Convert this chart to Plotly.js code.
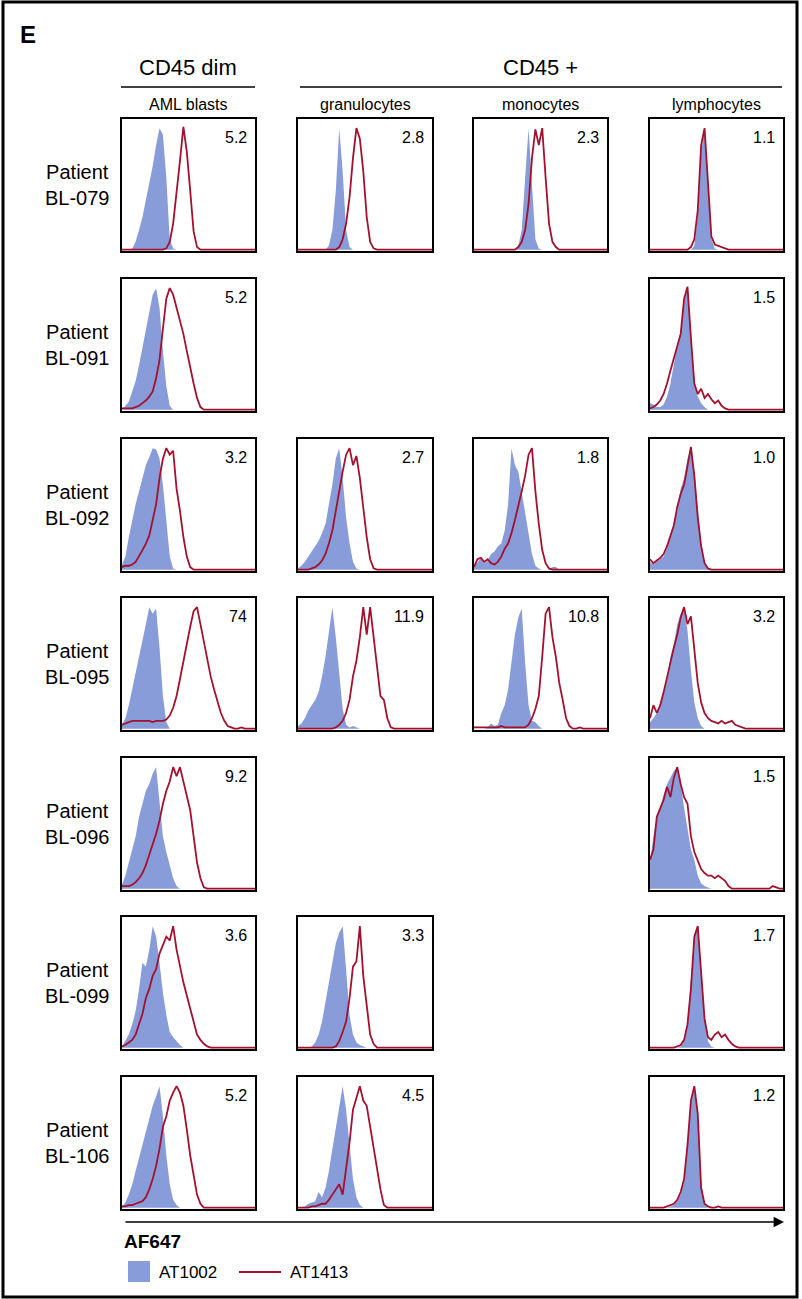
<!DOCTYPE html>
<html>
<head>
<meta charset="utf-8">
<script src="https://cdn.plot.ly/plotly-3.0.1.min.js"></script>
<style>html,body{margin:0;padding:0;background:#fff;}#chart{width:802px;height:1299px;}</style>
</head>
<body>
<div id="chart"></div>
<script>
// ---------------- DATA ----------------
const bins = [0,1,2,3,4,5,6,7,8,9,10,11,12,13,14,15,16,17,18,19,20,21,22,23,24,25,26,27,28,29,30,31,32,33,34,35,36,37,38,39];
const patients = ['BL-079','BL-091','BL-092','BL-095','BL-096','BL-099','BL-106'];
const populations = ['AML blasts','granulocytes','monocytes','lymphocytes'];
const groupLabels = ['CD45 dim','CD45 +'];
const seriesNames = ['AT1002','AT1413'];
const axisLabel = 'AF647';

// MFI ratio labels, per patient row, per population column ('' = no panel)
const ratiosBL079 = ['5.2','2.8','2.3','1.1'];
const ratiosBL091 = ['5.2','','','1.5'];
const ratiosBL092 = ['3.2','2.7','1.8','1.0'];
const ratiosBL095 = ['74','11.9','10.8','3.2'];
const ratiosBL096 = ['9.2','','','1.5'];
const ratiosBL099 = ['3.6','3.3','','1.7'];
const ratiosBL106 = ['5.2','4.5','','1.2'];

// histograms (% of mode), AT1002 (filled) and AT1413 (line)
const BL079_blasts_AT1002 = [0,0,0,1,6,15,25,38,50,64, 80,93,88,55,8,1,0,0,0,0, 0,0,0,0,0,0,0,0,0,0, 0,0,0,0,0,0,0,0,0,0];
const BL079_blasts_AT1413 = [0,0,0,0,0,0,0,0,0,0, 0,0,0,1,6,20,42,68,94,75, 45,14,2,0,0,0,0,0,0,0, 0,0,0,0,0,0,0,0,0,0];
const BL079_gran_AT1002 = [0,0,0,0,0,0,0,0,0,3, 15,45,93,60,15,2,0,0,0,0, 0,0,0,0,0,0,0,0,0,0, 0,0,0,0,0,0,0,0,0,0];
const BL079_gran_AT1413 = [0,0,0,0,0,0,0,0,0,0, 0,0,2,8,20,40,70,93,85,60, 25,6,1,0,0,0,0,0,0,0, 0,0,0,0,0,0,0,0,0,0];
const BL079_mono_AT1002 = [0,0,0,0,0,0,0,0,0,0, 0,0,0,3,15,55,93,50,8,1, 0,0,0,0,0,0,0,0,0,0, 0,0,0,0,0,0,0,0,0,0];
const BL079_mono_AT1413 = [0,0,0,0,0,0,0,0,0,0, 0,0,0,2,6,15,35,70,92,80, 93,55,20,6,2,0,0,0,0,0, 0,0,0,0,0,0,0,0,0,0];
const BL079_lymph_AT1002 = [0,0,0,0,0,0,0,0,0,0, 0,0,0,3,25,75,93,55,8,1, 0,0,0,0,0,0,0,0,0,0, 0,0,0,0,0,0,0,0,0,0];
const BL079_lymph_AT1413 = [0,0,0,0,0,0,0,0,0,0, 0,0,2,8,30,80,93,50,10,4, 3,2,1,0,0,0,0,0,0,0, 0,0,0,0,0,0,0,0,0,0];

const BL091_blasts_AT1002 = [0,3,6,14,22,34,48,62,76,88, 93,78,45,18,3,0,0,0,0,0, 0,0,0,0,0,0,0,0,0,0, 0,0,0,0,0,0,0,0,0,0];
const BL091_blasts_AT1413 = [1,1,1,1,2,3,5,7,10,14, 24,38,62,85,93,88,78,68,58,45, 32,20,9,2,0,0,0,0,0,0, 0,0,0,0,0,0,0,0,0,0];
const BL091_lymph_AT1002 = [5,4,2,2,4,10,20,35,50,60, 85,93,60,20,10,5,2,0,0,0, 0,0,0,0,0,0,0,0,0,0, 0,0,0,0,0,0,0,0,0,0];
const BL091_lymph_AT1413 = [1,2,4,7,12,20,30,40,50,58, 85,94,55,20,12,16,9,12,8,5, 7,3,1,0,0,0,0,0,0,0, 0,0,0,0,0,0,0,0,0,0];

const BL092_blasts_AT1002 = [4,10,25,38,50,60,70,80,86,93, 92,85,65,38,10,1,0,0,0,0, 0,0,0,0,0,0,0,0,0,0, 0,0,0,0,0,0,0,0,0,0];
const BL092_blasts_AT1413 = [2,3,3,4,6,10,15,20,26,38, 50,70,85,93,88,91,62,45,25,10, 2,0,0,0,0,0,0,0,0,0, 0,0,0,0,0,0,0,0,0,0];
const BL092_gran_AT1002 = [1,3,6,10,13,17,22,28,35,50, 65,85,93,70,40,20,6,1,0,0, 0,0,0,0,0,0,0,0,0,0, 0,0,0,0,0,0,0,0,0,0];
const BL092_gran_AT1413 = [0,0,0,0,1,2,4,7,12,20, 30,45,62,75,88,93,80,87,70,48, 25,8,1,0,0,0,0,0,0,0, 0,0,0,0,0,0,0,0,0,0];
const BL092_mono_AT1002 = [2,6,9,5,7,12,14,18,20,30, 50,93,80,75,60,45,30,12,3,1, 0,0,0,2,2,0,0,0,0,0, 0,0,0,0,0,0,0,0,0,0];
const BL092_mono_AT1413 = [2,8,9,6,8,5,4,6,10,16, 20,28,38,48,60,72,88,93,60,35, 15,5,1,0,0,0,0,0,0,0, 0,0,0,0,0,0,0,0,0,0];
const BL092_lymph_AT1002 = [6,4,6,8,10,16,25,35,45,62, 70,85,93,75,45,20,6,1,0,0, 0,0,0,0,0,0,0,0,0,0, 0,0,0,0,0,0,0,0,0,0];
const BL092_lymph_AT1413 = [8,5,7,9,12,18,26,34,48,58, 65,80,94,72,40,18,5,1,0,0, 0,0,0,0,0,0,0,0,0,0, 0,0,0,0,0,0,0,0,0,0];

const BL095_blasts_AT1002 = [3,8,18,30,42,55,68,80,93,88, 92,62,25,5,0,0,0,0,0,0, 0,0,0,0,0,0,0,0,0,0, 0,0,0,0,0,0,0,0,0,0];
const BL095_blasts_AT1413 = [3,4,5,6,6,6,6,6,6,5, 6,6,6,7,10,16,25,38,52,65, 78,90,93,80,66,52,40,30,20,12, 6,2,1,0,0,1,0,0,0,0];
const BL095_gran_AT1002 = [2,4,8,14,18,22,28,40,55,75, 93,70,40,15,3,1,2,1,0,0, 0,0,0,0,0,0,0,0,0,0, 0,0,0,0,0,0,0,0,0,0];
const BL095_gran_AT1413 = [0,0,0,0,0,0,0,0,0,0, 0,1,3,6,12,22,40,52,70,93, 72,93,70,48,25,22,8,1,0,0, 0,0,0,0,0,0,0,0,0,0];
const BL095_mono_AT1002 = [0,0,0,0,1,4,2,3,12,18, 30,50,72,85,92,50,18,6,5,2, 0,0,0,0,0,0,0,0,0,0, 0,0,0,0,0,0,0,0,0,0];
const BL095_mono_AT1413 = [1,1,1,1,1,1,1,1,2,1, 1,1,1,1,1,1,3,8,15,25, 55,88,93,70,55,35,22,8,2,0, 0,1,0,0,0,0,0,0,0,0];
const BL095_lymph_AT1002 = [5,8,12,18,28,38,55,65,80,88, 93,75,45,20,8,2,0,0,0,0, 0,0,0,0,0,0,0,0,0,0, 0,0,0,0,0,0,0,0,0,0];
const BL095_lymph_AT1413 = [8,18,12,18,28,40,52,62,72,85, 93,80,86,60,35,20,12,8,6,5, 4,6,4,5,6,3,2,1,0,0, 0,0,0,0,0,0,0,0,0,0];

const BL096_blasts_AT1002 = [3,10,20,30,40,55,64,75,80,88, 93,65,40,28,18,8,2,0,0,0, 0,0,0,0,0,0,0,0,0,0, 0,0,0,0,0,0,0,0,0,0];
const BL096_blasts_AT1413 = [2,2,2,3,5,8,12,18,26,33, 42,52,65,75,82,93,86,93,82,72, 60,40,20,8,1,0,0,0,0,0, 0,0,0,0,0,0,0,0,0,0];
const BL096_lymph_AT1002 = [20,40,55,62,72,80,85,90,93,80, 62,45,30,22,10,4,2,1,0,0, 0,0,0,0,0,0,0,0,0,0, 0,0,0,0,0,0,0,0,0,0];
const BL096_lymph_AT1413 = [22,30,55,62,68,78,70,85,93,80, 70,65,40,28,22,15,12,10,10,8, 10,8,6,2,0,0,0,0,0,0, 0,0,0,0,0,0,2,1,0,0];

const BL099_blasts_AT1002 = [1,5,10,18,28,45,65,62,75,93, 85,65,42,25,12,8,5,2,0,0, 0,0,0,0,0,0,0,0,0,0, 0,0,0,0,0,0,0,0,0,0];
const BL099_blasts_AT1413 = [1,2,4,6,10,18,26,38,45,55, 60,72,78,85,82,93,75,62,50,40, 30,20,10,6,3,1,0,0,0,0, 0,0,0,0,0,0,0,0,0,0];
const BL099_gran_AT1002 = [0,0,0,0,1,4,10,20,35,50, 65,80,88,93,60,25,10,4,2,1, 0,0,0,0,0,0,0,0,0,0, 0,0,0,0,0,0,0,0,0,0];
const BL099_gran_AT1413 = [0,0,0,0,0,0,0,0,0,0, 0,1,5,12,20,38,62,66,93,55, 30,10,3,0,0,0,0,0,0,0, 0,0,0,0,0,0,0,0,0,0];
const BL099_lymph_AT1002 = [0,0,0,0,0,0,0,0,0,1, 5,20,50,85,93,60,25,5,1,0, 0,0,0,0,0,0,0,0,0,0, 0,0,0,0,0,0,0,0,0,0];
const BL099_lymph_AT1413 = [0,0,0,0,0,0,0,0,1,2, 6,18,45,85,93,55,22,8,6,10, 12,8,10,6,3,1,0,0,0,0, 0,0,0,0,0,0,0,0,0,0];

const BL106_blasts_AT1002 = [1,4,10,18,28,38,48,60,70,78, 85,93,70,40,18,6,2,0,0,0, 0,0,0,0,0,0,0,0,0,0, 0,0,0,0,0,0,0,0,0,0];
const BL106_blasts_AT1413 = [1,1,2,2,3,4,5,8,14,22, 32,45,62,70,82,88,93,88,78,60, 40,25,10,3,0,0,0,0,0,0, 0,0,0,0,0,0,0,0,0,0];
const BL106_gran_AT1002 = [0,0,1,3,4,5,12,8,15,28, 45,60,78,93,75,50,22,8,2,0, 0,0,0,0,0,0,0,0,0,0, 0,0,0,0,0,0,0,0,0,0];
const BL106_gran_AT1413 = [0,0,0,0,1,1,2,3,3,6, 10,14,18,10,30,50,75,85,93,82, 78,62,45,28,14,2,0,0,0,0, 0,0,0,0,0,0,0,0,0,0];
const BL106_lymph_AT1002 = [0,0,0,0,0,0,1,2,5,10, 20,45,80,93,70,20,3,0,0,0, 0,0,0,0,0,0,0,0,0,0, 0,0,0,0,0,0,0,0,0,0];
const BL106_lymph_AT1413 = [0,0,0,0,0,1,2,3,6,12, 22,48,82,93,72,15,3,1,0,0, 1,0,0,0,0,0,0,0,0,0, 0,0,0,0,0,0,0,0,0,0];

// ---------------- BUILD ----------------
const ratioRows = [ratiosBL079, ratiosBL091, ratiosBL092, ratiosBL095, ratiosBL096, ratiosBL099, ratiosBL106];
const panels = [
  [0,0,BL079_blasts_AT1002,BL079_blasts_AT1413],[0,1,BL079_gran_AT1002,BL079_gran_AT1413],
  [0,2,BL079_mono_AT1002,BL079_mono_AT1413],[0,3,BL079_lymph_AT1002,BL079_lymph_AT1413],
  [1,0,BL091_blasts_AT1002,BL091_blasts_AT1413],[1,3,BL091_lymph_AT1002,BL091_lymph_AT1413],
  [2,0,BL092_blasts_AT1002,BL092_blasts_AT1413],[2,1,BL092_gran_AT1002,BL092_gran_AT1413],
  [2,2,BL092_mono_AT1002,BL092_mono_AT1413],[2,3,BL092_lymph_AT1002,BL092_lymph_AT1413],
  [3,0,BL095_blasts_AT1002,BL095_blasts_AT1413],[3,1,BL095_gran_AT1002,BL095_gran_AT1413],
  [3,2,BL095_mono_AT1002,BL095_mono_AT1413],[3,3,BL095_lymph_AT1002,BL095_lymph_AT1413],
  [4,0,BL096_blasts_AT1002,BL096_blasts_AT1413],[4,3,BL096_lymph_AT1002,BL096_lymph_AT1413],
  [5,0,BL099_blasts_AT1002,BL099_blasts_AT1413],[5,1,BL099_gran_AT1002,BL099_gran_AT1413],
  [5,3,BL099_lymph_AT1002,BL099_lymph_AT1413],
  [6,0,BL106_blasts_AT1002,BL106_blasts_AT1413],[6,1,BL106_gran_AT1002,BL106_gran_AT1413],
  [6,3,BL106_lymph_AT1002,BL106_lymph_AT1413]
];

const W = 802, H = 1299;
const px = x => x / W;
const py = y => 1 - y / H;
const colL = [122, 298, 474, 650];
const colR = [255, 432, 607, 783];
const rowT = [119, 279, 439, 598, 758, 917, 1077];
const boxH = 132;

const BLUE = 'rgb(137,156,218)';
const RED = '#A3112E';
const FONT = 'Liberation Sans, Arial, Helvetica, sans-serif';

const traces = [];
const layout = {
  width: W, height: H,
  margin: {l:0, r:0, t:0, b:0},
  paper_bgcolor: '#ffffff', plot_bgcolor: '#ffffff',
  showlegend: false,
  font: {family: FONT, color: '#000'},
  shapes: [], annotations: []
};

panels.forEach((p, i) => {
  const [r, c, blue, red] = p;
  const k = i + 1;
  const xa = k === 1 ? 'xaxis' : 'xaxis' + k;
  const ya = k === 1 ? 'yaxis' : 'yaxis' + k;
  const xr = k === 1 ? 'x' : 'x' + k;
  const yr = k === 1 ? 'y' : 'y' + k;
  const axCommon = {showline:true, mirror:true, linecolor:'#000', linewidth:2,
    showgrid:false, zeroline:false, showticklabels:false, ticks:'', fixedrange:true};
  layout[xa] = Object.assign({}, axCommon, {domain:[px(colL[c]), px(colR[c])], range:[0, 39], anchor: yr});
  layout[ya] = Object.assign({}, axCommon, {domain:[py(rowT[r] + boxH), py(rowT[r])], range:[-1, 100], anchor: xr});
  traces.push({x: bins, y: blue, xaxis: xr, yaxis: yr, type:'scatter', mode:'lines',
    fill:'tozeroy', fillcolor: BLUE, line:{width:0, color: BLUE}, hoverinfo:'skip', name: seriesNames[0]});
  traces.push({x: bins, y: red, xaxis: xr, yaxis: yr, type:'scatter', mode:'lines',
    line:{width:1.8, color: RED}, hoverinfo:'skip', name: seriesNames[1]});
  layout.annotations.push({xref: xr + ' domain', yref: yr + ' domain', x: 1, y: 1,
    xanchor:'right', yanchor:'top', xshift:-6, yshift:-8, showarrow:false,
    text: ratioRows[r][c], font:{size:16, family: FONT}});
});

// patient labels
patients.forEach((pt, r) => {
  layout.annotations.push({xref:'paper', yref:'paper', x: px(77), y: py(rowT[r] + boxH/2),
    xanchor:'center', yanchor:'middle', showarrow:false, align:'center',
    text: 'Patient<br>' + pt, font:{size:20, family: FONT}});
});

// population headers
populations.forEach((pop, c) => {
  layout.annotations.push({xref:'paper', yref:'paper', x: px((colL[c] + colR[c]) / 2), y: py(104),
    xanchor:'center', yanchor:'middle', showarrow:false, text: pop, font:{size:16, family: FONT}});
});

// group headers + lines
layout.annotations.push({xref:'paper', yref:'paper', x: px(188), y: py(68), xanchor:'center', yanchor:'middle',
  showarrow:false, text: groupLabels[0], font:{size:22, family: FONT}});
layout.annotations.push({xref:'paper', yref:'paper', x: px(540), y: py(68), xanchor:'center', yanchor:'middle',
  showarrow:false, text: groupLabels[1], font:{size:22, family: FONT}});
layout.shapes.push({type:'line', xref:'paper', yref:'paper', x0: px(121), x1: px(255), y0: py(87), y1: py(87), line:{color:'#000', width:1.5}});
layout.shapes.push({type:'line', xref:'paper', yref:'paper', x0: px(300), x1: px(782), y0: py(87), y1: py(87), line:{color:'#000', width:1.5}});

// panel letter
layout.annotations.push({xref:'paper', yref:'paper', x: px(18), y: py(34), xanchor:'left', yanchor:'middle',
  showarrow:false, text: '<b>E</b>', font:{size:24, family: FONT}});

// x-axis arrow
layout.annotations.push({xref:'paper', yref:'paper', x: px(784), y: py(1222), ax: 124 - 784, ay: 0,
  showarrow:true, arrowhead:2, arrowsize:1.3, arrowwidth:1.6, arrowcolor:'#000', text:'', standoff:0});
layout.annotations.push({xref:'paper', yref:'paper', x: px(122), y: py(1241), xanchor:'left', yanchor:'middle',
  showarrow:false, text: '<b>' + axisLabel + '</b>', font:{size:19, family: 'Liberation Sans Narrow, Arial Narrow, ' + FONT}});

// legend
layout.shapes.push({type:'rect', xref:'paper', yref:'paper', x0: px(128), x1: px(150), y0: py(1282), y1: py(1261),
  fillcolor: BLUE, line:{width:0}});
layout.annotations.push({xref:'paper', yref:'paper', x: px(157), y: py(1272), xanchor:'left', yanchor:'middle',
  showarrow:false, text: seriesNames[0], font:{size:17, family: FONT}});
layout.shapes.push({type:'line', xref:'paper', yref:'paper', x0: px(239), x1: px(281), y0: py(1272), y1: py(1272),
  line:{color: RED, width:2}});
layout.annotations.push({xref:'paper', yref:'paper', x: px(288), y: py(1272), xanchor:'left', yanchor:'middle',
  showarrow:false, text: seriesNames[1], font:{size:17, family: FONT}});

// outer frame
layout.shapes.push({type:'rect', xref:'paper', yref:'paper', x0: px(3), x1: px(797), y0: py(1297), y1: py(2),
  line:{color:'#000', width:3}, fillcolor:'rgba(0,0,0,0)'});

Plotly.newPlot('chart', traces, layout, {displayModeBar:false, staticPlot:true});
</script>
</body>
</html>
